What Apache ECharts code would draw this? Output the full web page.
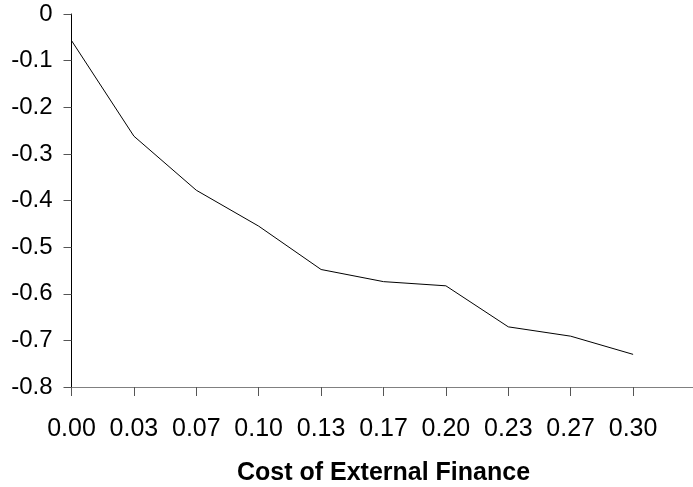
<!DOCTYPE html>
<html>
<head>
<meta charset="utf-8">
<script src="https://cdn.jsdelivr.net/npm/echarts@6/dist/echarts.min.js"></script>
<style>
  html, body { margin: 0; padding: 0; background: #fff; }
  #chart { width: 693px; height: 487px; }
</style>
</head>
<body>
<div id="chart"></div>
<script>
// cost of external finance (x) vs response (y)
const categories = ['0.00', '0.03', '0.07', '0.10', '0.13', '0.17', '0.20', '0.23', '0.27', '0.30']
const values = [-0.057, -0.262, -0.378, -0.455, -0.548, -0.574, -0.583, -0.671, -0.691, -0.730]
const yMin = -0.8
const yMax = 0
const yStep = 0.1

const font = "'Liberation Sans', Arial, sans-serif"

const chart = echarts.init(document.getElementById('chart'))

const option = {
  animation: false,
  grid: {
    left: 71.5,
    width: 624,
    top: 14,
    bottom: 100,
    outerBoundsMode: 'none',
    containLabel: false
  },
  xAxis: {
    type: 'category',
    // extra empty slot so the axis runs on past the last point, as in the original
    data: categories.concat(['']),
    boundaryGap: false,
    name: 'Cost of External Finance',
    nameLocation: 'middle',
    nameGap: 74,
    nameTextStyle: {
      color: '#000',
      fontFamily: font,
      fontSize: 25,
      fontWeight: 'bold'
    },
    axisLine: {
      onZero: false,
      lineStyle: { color: '#808080', width: 1 }
    },
    axisTick: {
      show: true,
      inside: false,
      length: 9,
      alignWithLabel: true,
      lineStyle: { color: '#555' }
    },
    axisLabel: {
      interval: 0,
      margin: 30,
      color: '#000',
      fontFamily: font,
      fontSize: 25
    },
    splitLine: { show: false }
  },
  yAxis: {
    type: 'value',
    min: yMin,
    max: yMax,
    interval: yStep,
    axisLine: {
      show: true,
      lineStyle: { color: '#000', width: 1 }
    },
    axisTick: {
      show: true,
      length: 8,
      lineStyle: { color: '#555' }
    },
    axisLabel: {
      margin: 19,
      color: '#000',
      fontFamily: font,
      fontSize: 24,
      formatter: function (v) {
        return Math.abs(v) < 1e-9 ? '0' : v.toFixed(1)
      }
    },
    splitLine: { show: false }
  },
  series: [
    {
      type: 'line',
      data: values,
      symbol: 'none',
      lineStyle: { color: '#000', width: 1 }
    }
  ]
}

chart.setOption(option)
</script>
</body>
</html>
